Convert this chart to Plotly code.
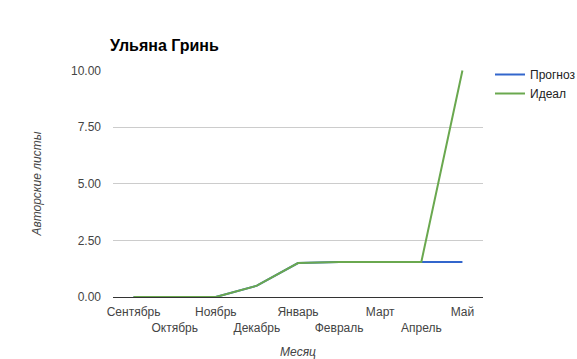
import plotly.graph_objects as go

months = ["Сентябрь", "Октябрь", "Ноябрь", "Декабрь", "Январь", "Февраль", "Март", "Апрель", "Май"]
forecast = [0, 0, 0, 0.5, 1.5, 1.55, 1.55, 1.55, 1.55]
ideal = [0, 0, 0, 0.5, 1.5, 1.55, 1.55, 1.55, 10]
y_ticks = [0, 2.5, 5, 7.5, 10]
y_tick_labels = ["0.00", "2.50", "5.00", "7.50", "10.00"]

tick_text = [m if i % 2 == 0 else "<br>" + m for i, m in enumerate(months)]

fig = go.Figure()
fig.add_trace(go.Scatter(x=list(range(len(months))), y=forecast, mode="lines", name="Прогноз",
                         line=dict(color="#3366cc", width=2)))
fig.add_trace(go.Scatter(x=list(range(len(months))), y=ideal, mode="lines", name="Идеал",
                         line=dict(color="#6aa84f", width=2)))

font_family = "Liberation Sans, Arial, sans-serif"
fig.update_layout(
    width=577, height=359,
    margin=dict(l=113, r=94, t=70, b=62),
    paper_bgcolor="white", plot_bgcolor="white",
    font=dict(family=font_family, size=12, color="#444444"),
    title=dict(text="<b>Ульяна Гринь</b>", x=110/577, xanchor="left", xref="container",
               y=1 - 45/359, yanchor="middle", font=dict(size=16, color="#000000", family=font_family)),
    legend=dict(xref="container", yref="container", x=490/577, y=1 - 60/359,
                xanchor="left", yanchor="top", font=dict(size=12, color="#222222"),
                bgcolor="rgba(0,0,0,0)", itemwidth=30, tracegroupgap=0),
    showlegend=True,
)
fig.update_xaxes(
    range=[-0.5, len(months) - 0.5], automargin=False,
    tickmode="array", tickvals=list(range(len(months))), ticktext=tick_text, tickangle=0,
    showgrid=False, zeroline=False, showline=False, ticks="",
    ticklabelstandoff=6,
    tickfont=dict(size=12, color="#444444"),
    title=dict(text="<i>Месяц</i>", font=dict(size=12, color="#444444"), standoff=14),
)
fig.update_yaxes(
    range=[0, 10.02], automargin=False,
    tickmode="array", tickvals=y_ticks, ticktext=y_tick_labels,
    showgrid=True, gridcolor="#cccccc", gridwidth=1,
    zeroline=True, zerolinecolor="#333333", zerolinewidth=1,
    showline=False, ticks="", ticklen=0,
    ticklabelstandoff=11,
    tickfont=dict(size=12, color="#444444"),
    title=dict(text="<i>Авторские листы</i>", font=dict(size=12, color="#444444"), standoff=26),
)
fig.write_html("out.html")
